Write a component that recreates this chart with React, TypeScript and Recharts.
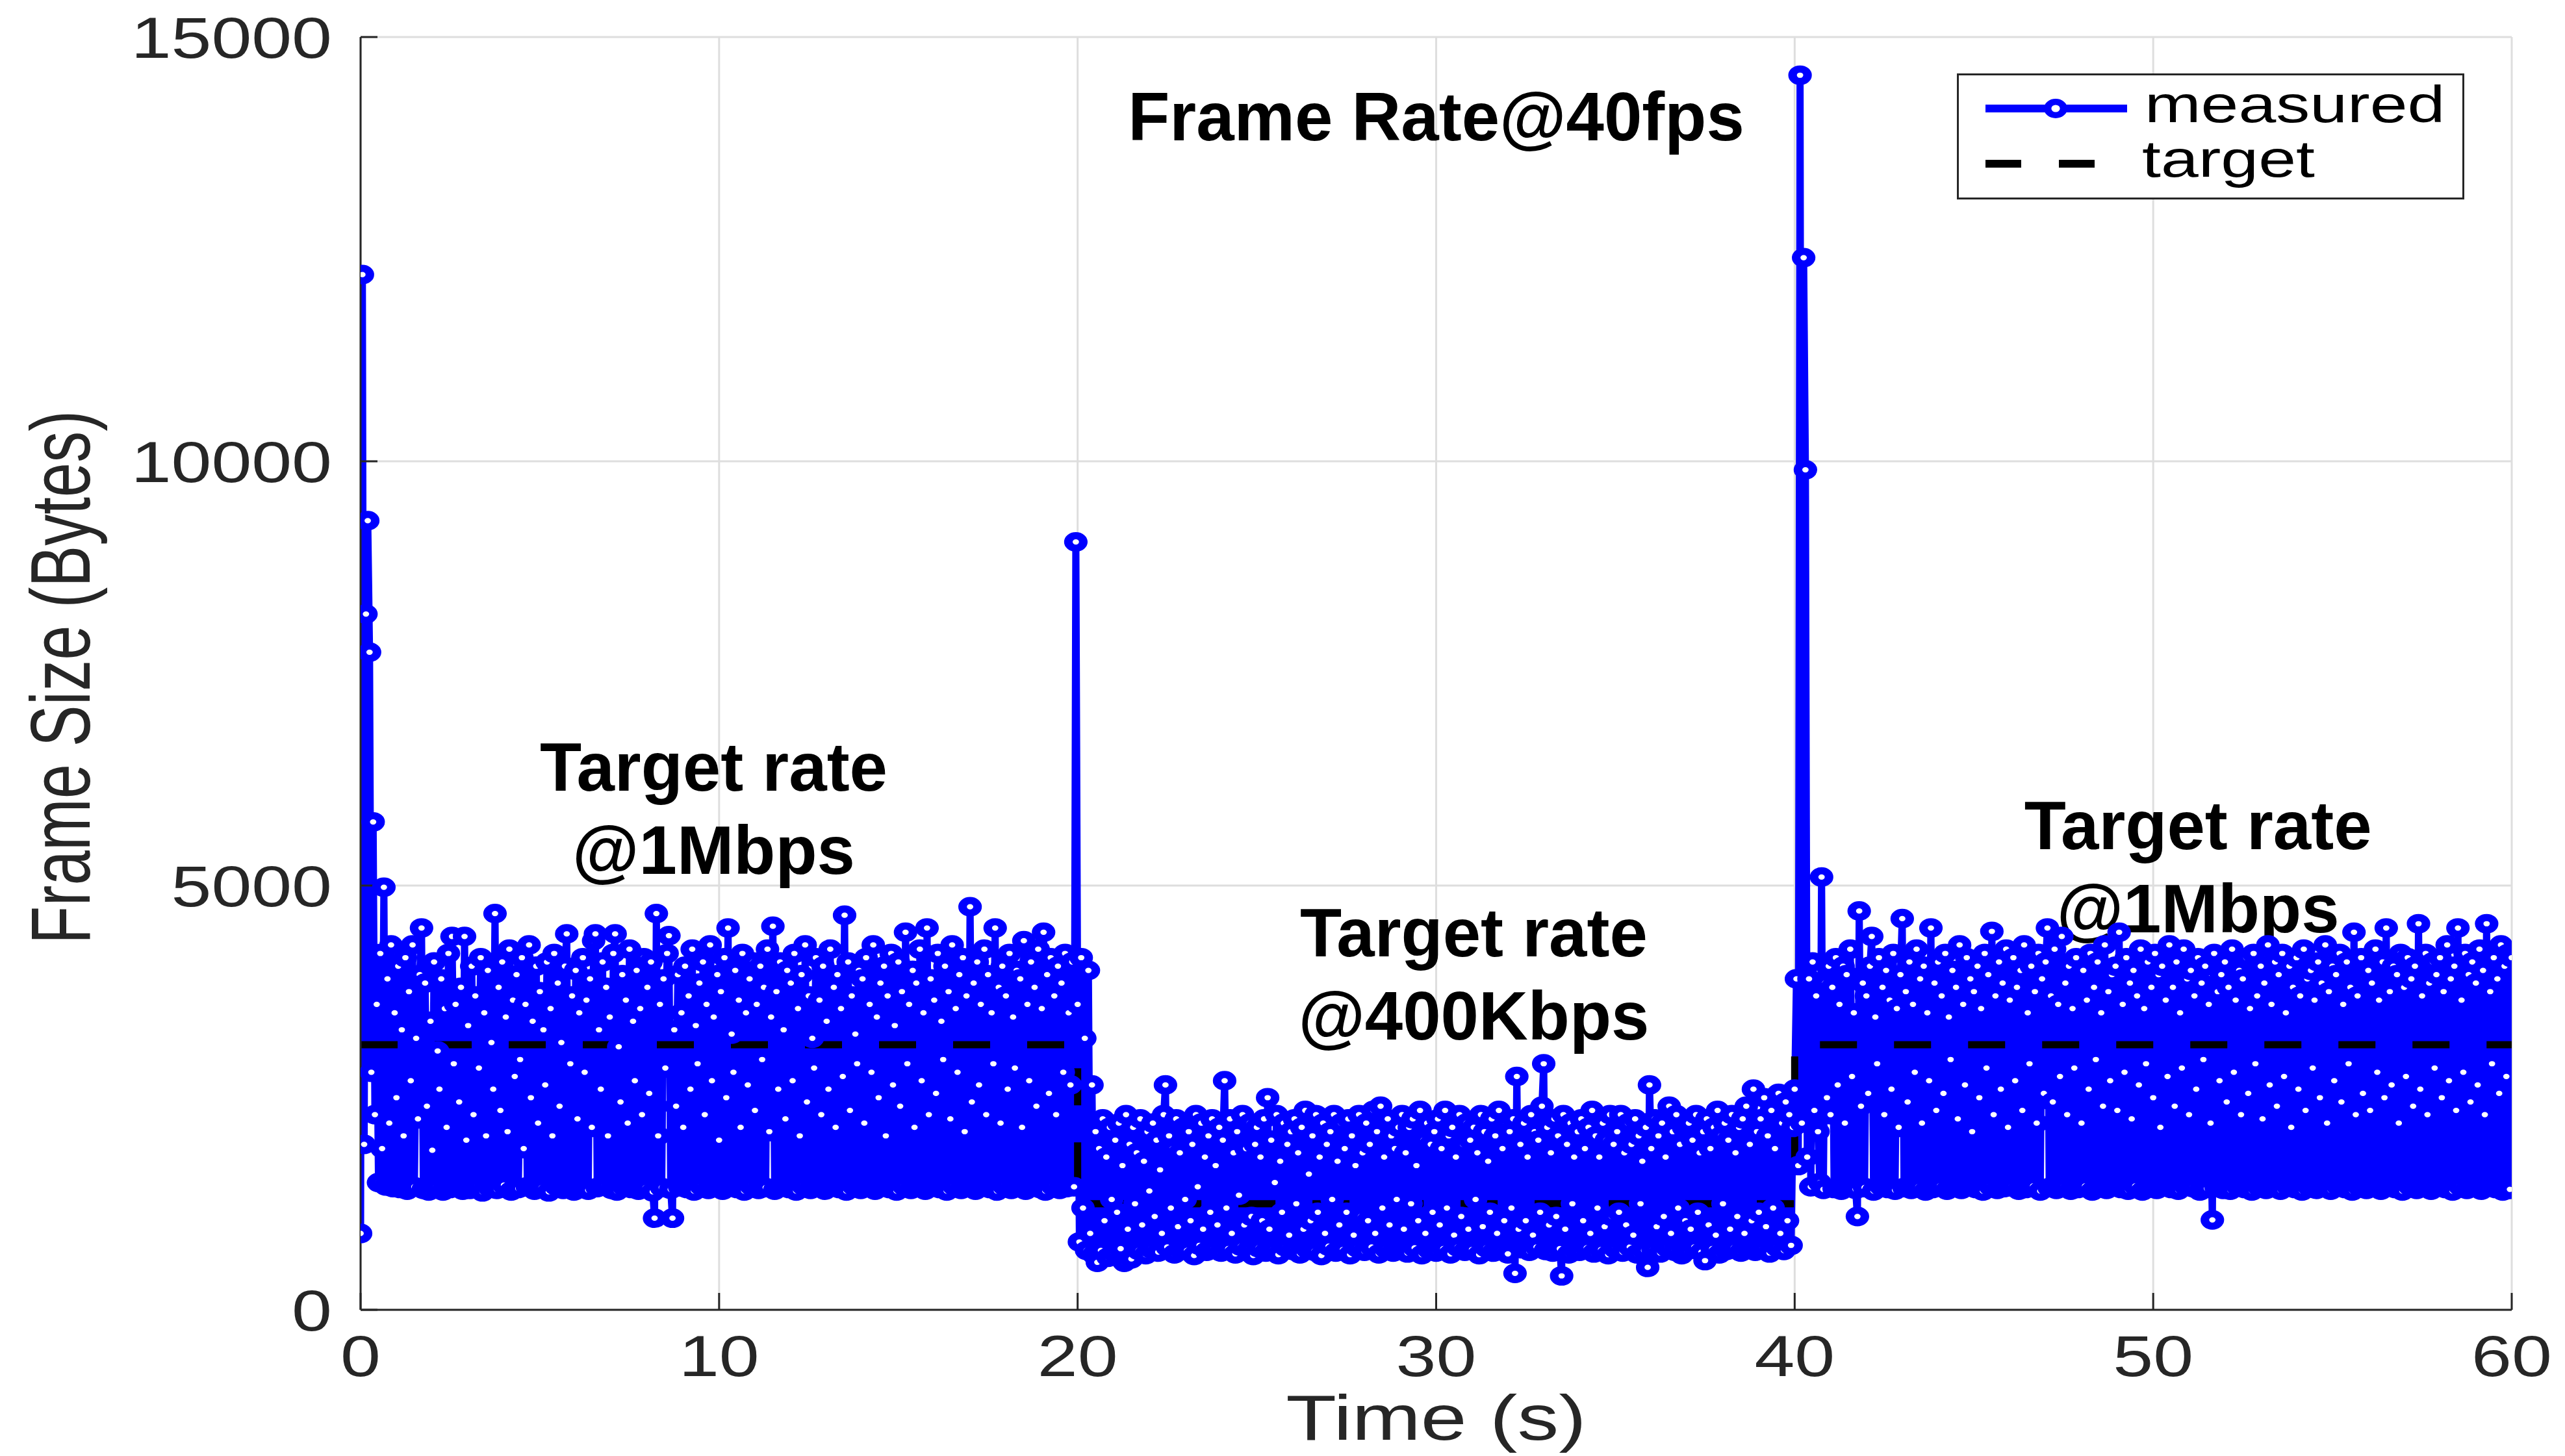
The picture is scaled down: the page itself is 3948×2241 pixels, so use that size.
import React from 'react';
import { LineChart, Line, XAxis, YAxis, CartesianGrid, Legend, ReferenceDot, Label } from 'recharts';

// Frame sizes (bytes) at 20 samples per second.
const SAMPLES_PER_SECOND = 20;

// 0 s – 20 s (target 1 Mbps)
const segmentA: number[] = [
  900, 12200, 1950, 8200, 9300, 7750, 2800, 5750, 2300, 3600, 1500, 4200, 1900, 4980, 1460, 3900, 2200, 4300, 1440, 3500,
  2500, 4050, 1430, 3300, 2050, 4150, 1410, 3750, 2700, 4300, 1450, 3200, 2250, 3950, 4500, 1420, 3850, 2400, 1400, 3400,
  1880, 4100, 1440, 3050, 2600, 3900, 1400, 3550, 2150, 4200, 1430, 4400, 2900, 3600, 1460, 2450, 3800, 1410, 4400, 2000,
  3350, 1420, 4050, 2300, 3700, 1450, 2850, 4150, 1390, 3500, 2050, 4000, 1440, 3150, 2600, 4670, 1420, 3800, 2350, 4100,
  1470, 3450, 2100, 4250, 1400, 3650, 2750, 3950, 1430, 2950, 4150, 1900, 3600, 1450, 4300, 2500, 3400, 1410, 4050, 2200,
  3750, 1440, 3300, 2650, 4100, 1390, 3550, 2050, 4200, 1460, 3850, 2400, 3150, 1420, 4050, 4430, 1450, 2900, 3700, 1400,
  4000, 2250, 3500, 1430, 4150, 2800, 3650, 1410, 3900, 2150, 4350, 4430, 1440, 3300, 2600, 4100, 1460, 3800, 2050, 3450,
  1420, 4200, 4430, 1400, 3100, 2450, 3950, 1450, 3650, 2200, 4250, 1430, 3400, 2700, 4000, 1410, 3550, 2300, 4150, 1440,
  3800, 2550, 4100, 1390, 1080, 4670, 2050, 3600, 1440, 3900, 2850, 4200, 4410, 1420, 1080, 3300, 2400, 3950, 1450, 3500,
  2150, 4050, 1430, 3700, 2600, 4250, 1400, 3350, 2900, 3850, 1460, 4100, 2300, 3600, 1420, 4300, 2700, 3450, 1440, 3950,
  2000, 3750, 1410, 4150, 2500, 4500, 1450, 3250, 2800, 4000, 1430, 3650, 2150, 4200, 1400, 3500, 2650, 3900, 1460, 4100,
  2350, 3600, 1420, 4050, 2950, 3800, 1440, 4250, 2100, 3450, 4520, 1410, 3750, 2600, 4100, 1450, 3300, 2250, 4000, 1430,
  3850, 2700, 4200, 1400, 3550, 2050, 3950, 1460, 4300, 2450, 3700, 1420, 3200, 2850, 4150, 1440, 3650, 2300, 4050, 1410,
  3400, 2600, 4250, 1450, 3800, 2150, 3950, 1430, 3550, 2750, 4650, 1400, 4100, 2350, 3700, 1460, 3250, 2900, 4000, 1420,
  3900, 2200, 4150, 1440, 3600, 2800, 4300, 1410, 3450, 2500, 3850, 1450, 4050, 2050, 3700, 1430, 4200, 2650, 3350, 1400,
  4100, 2400, 3750, 1460, 4450, 2900, 3600, 1420, 4000, 2150, 3850, 1440, 4250, 2700, 3500, 1410, 4500, 2300, 3900, 1450,
  3650, 2550, 4200, 1430, 3400, 2950, 4050, 1400, 3750, 2250, 4300, 1460, 3550, 2800, 3950, 1420, 4150, 2100, 3700, 1440,
  4750, 2450, 3850, 1410, 4100, 2650, 3600, 1450, 4250, 2300, 3950, 1430, 3500, 2900, 4500, 1400, 3800, 2200, 4050, 1460,
  3700, 2600, 4200, 1420, 3450, 2850, 4000, 1440, 3900, 2150, 4350, 1410, 3600, 2700, 4100, 1450, 3800, 2400, 4250, 1430,
  3550, 4450, 1400, 3950, 2550, 4150, 1460, 3700, 2300, 4050, 1420, 3850, 2800, 4200, 1440, 3500, 2650, 4100, 1450, 9050,
];

// 20 s – 40 s (target 400 Kbps)
const segmentB: number[] = [
  3600, 800, 4150, 1200, 3200, 700, 4000, 900, 2650, 650, 2100, 560, 1900, 700, 2250, 1050, 1800, 620, 2150, 1300,
  680, 2000, 1150, 2200, 720, 1700, 560, 2300, 950, 1950, 600, 2150, 1250, 1850, 700, 2250, 1000, 1750, 650, 2100,
  1400, 720, 2200, 1100, 2000, 680, 1650, 900, 2300, 2650, 740, 2050, 1200, 1900, 660, 2250, 980, 1850, 700, 2150,
  1300, 700, 2100, 1050, 1950, 640, 2300, 1450, 760, 2200, 950, 1800, 690, 2050, 1150, 2250, 720, 1700, 1000, 2150,
  680, 2000, 2700, 1200, 720, 2250, 900, 1850, 660, 2100, 1350, 750, 2300, 1000, 1900, 700, 2200, 1100, 640, 1950,
  2150, 730, 1800, 1050, 2250, 680, 2500, 950, 2000, 710, 1500, 2300, 650, 1750, 1150, 2200, 740, 1950, 880, 2100,
  700, 2250, 1250, 1850, 660, 2150, 950, 2350, 720, 1600, 1050, 2050, 690, 2300, 1150, 1800, 640, 2200, 900, 1950,
  750, 2100, 1300, 2300, 680, 1750, 1000, 2200, 710, 1900, 1150, 2250, 650, 2050, 880, 1700, 730, 2300, 1100, 1850,
  690, 2200, 1050, 1950, 740, 2350, 900, 2100, 660, 2400, 1200, 1800, 720, 2250, 1000, 2050, 680, 1900, 1300, 2150,
  700, 2300, 950, 1850, 670, 2150, 1250, 2250, 730, 1700, 1050, 2350, 650, 2000, 900, 2200, 710, 1950, 1150, 2100,
  680, 2250, 1000, 1900, 720, 2350, 1200, 2050, 660, 2150, 880, 1800, 740, 2300, 1100, 1950, 690, 2200, 950, 2000,
  710, 2150, 1300, 1850, 650, 2300, 980, 2100, 730, 1750, 1150, 2250, 680, 2050, 900, 2350, 700, 1900, 1050, 2200,
  660, 2100, 1200, 2250, 430, 2750, 950, 1950, 720, 2200, 1050, 1800, 690, 2300, 880, 2100, 740, 2000, 1150, 2400,
  2900, 700, 2150, 1000, 1850, 680, 2250, 1100, 2050, 720, 400, 2300, 950, 1950, 660, 2200, 1250, 1800, 700, 2100,
  690, 2250, 1050, 1900, 730, 2150, 900, 2350, 670, 2050, 1200, 1800, 710, 2200, 980, 2000, 650, 2300, 1100, 1950,
  720, 2100, 1150, 2300, 680, 1850, 1000, 2200, 740, 1950, 880, 2250, 660, 2050, 1250, 1750, 700, 2150, 500, 2650,
  1900, 710, 2250, 980, 2050, 670, 2200, 1100, 1800, 730, 2400, 900, 2100, 690, 2300, 1200, 1950, 650, 2150, 1050,
  700, 2200, 950, 2000, 740, 2300, 1150, 1850, 680, 2100, 580, 2250, 1000, 1900, 720, 2150, 880, 2350, 660, 2050,
  1250, 2200, 700, 2000, 950, 2300, 730, 1850, 1100, 2150, 680, 2250, 900, 2400, 720, 1950, 1050, 2600, 690, 2100,
  1150, 2250, 710, 2500, 980, 2050, 670, 2350, 1200, 1900, 740, 2550, 900, 2200, 700, 2450, 1050, 2300, 760, 2150,
];

// 40 s – 60 s (target 1 Mbps)
const segmentC: number[] = [
  2600, 3900, 1700, 14550, 2200, 12400, 9900, 1800, 3900, 1450, 4100, 2350, 3700, 2100, 1500, 5100, 1420, 3850, 2500, 4050,
  2300, 3800, 1430, 4150, 2650, 3600, 1410, 4050, 2200, 3950, 1450, 4250, 2750, 3500, 1420, 1100, 4700, 2400, 3850, 1440,
  3700, 2550, 4050, 4400, 1400, 3450, 2900, 4150, 1460, 3800, 2300, 4000, 1430, 3650, 2600, 4200, 1410, 3550, 2150, 3950,
  4610, 1440, 3750, 2450, 4100, 1420, 3600, 2800, 4250, 1450, 3900, 2200, 4050, 1400, 3500, 2700, 4500, 1430, 3850, 2350,
  4100, 1460, 3700, 2550, 4200, 1410, 3450, 2950, 4000, 1440, 3800, 2250, 4300, 1420, 3600, 2650, 4150, 1450, 3900, 2100,
  3750, 1430, 4050, 2500, 3550, 1400, 4200, 2850, 3950, 1460, 4460, 2300, 3700, 1420, 4100, 2600, 3850, 1440, 4250, 2150,
  3650, 1450, 4150, 2700, 3800, 1410, 4000, 2350, 4300, 1430, 3500, 2900, 4050, 1460, 3750, 2200, 4200, 1400, 3900, 2550,
  4100, 4500, 1440, 3700, 2450, 4250, 1420, 3600, 2750, 4400, 1450, 3850, 2300, 4050, 1410, 3550, 2850, 4150, 1430, 3950,
  2200, 4000, 1460, 3650, 2600, 4200, 1400, 3800, 2950, 4100, 1440, 3500, 2400, 4300, 1420, 3750, 2700, 3950, 1450, 4050,
  2350, 4450, 1430, 3600, 2800, 4150, 1410, 3850, 2250, 4000, 1460, 3700, 2650, 4250, 1400, 3550, 2900, 4100, 1440, 3800,
  2500, 4200, 1420, 3950, 2150, 4050, 1450, 3650, 2750, 4300, 1430, 3800, 2400, 4100, 1410, 3500, 2850, 4250, 1460, 3900,
  2300, 4000, 1440, 3700, 2600, 4150, 1400, 3850, 2950, 4050, 1430, 3600, 2200, 1060, 4200, 1450, 3750, 2700, 3950, 1420,
  4100, 2450, 3800, 1410, 4250, 2800, 3650, 1460, 4000, 2300, 3900, 1430, 4150, 2550, 3550, 1400, 4200, 2900, 3700, 1450,
  4050, 2250, 3850, 1420, 4300, 2650, 3600, 1440, 4100, 2400, 3950, 1410, 4200, 2750, 3500, 1460, 4050, 2150, 3800, 1430,
  4150, 2600, 3700, 1400, 4250, 2350, 3900, 1450, 4000, 2850, 3650, 1420, 4100, 2500, 3850, 1440, 4300, 2200, 3750, 1410,
  4050, 2700, 3950, 1460, 4200, 2450, 3600, 1430, 4100, 2900, 3800, 1400, 4450, 2300, 3700, 1450, 4150, 2550, 3900, 1420,
  4000, 2350, 3850, 1440, 4250, 2800, 3650, 1410, 4100, 2500, 4500, 1450, 3750, 2650, 4050, 1430, 3950, 2200, 4200, 1400,
  3800, 2750, 4150, 1460, 3900, 2400, 4050, 1420, 4550, 2600, 3700, 1440, 4200, 2300, 3850, 1410, 4100, 2850, 3950, 1450,
  4150, 2500, 3750, 1430, 4300, 2700, 3900, 1400, 4050, 2350, 4500, 1460, 3650, 2800, 4200, 1420, 3950, 2450, 4100, 1440,
  3850, 2650, 4250, 1410, 4000, 2300, 4550, 1450, 3750, 2900, 4150, 1430, 3900, 2550, 4300, 1400, 4050, 2750, 4200, 1420,
  4150,
];

// Target frame size (bytes)
const targetTimes: number[] = [0, 20, 20, 40, 40, 60];
const targetLevels: number[] = [3125, 3125, 1250, 1250, 3125, 3125];

// Axis ticks
const xTicks: number[] = [0, 10, 20, 30, 40, 50, 60];
const yTicks: number[] = [0, 5000, 10000, 15000];

// Annotations (data coordinates of the first baseline)
const annotationTimes: number[] = [30, 9.85, 31.05, 51.25];
const annotationLevels: number[] = [13782, 6118, 4165, 5429];
const annotationTexts: string[][] = [
  ['Frame Rate@40fps'],
  ['Target rate', '@1Mbps'],
  ['Target rate', '@400Kbps'],
  ['Target rate', '@1Mbps'],
];

const measuredValues = [...segmentA, ...segmentB, ...segmentC];
const measuredData = measuredValues.map((v, i) => ({ t: i / SAMPLES_PER_SECOND, measured: v }));
const targetData = targetTimes.map((t, i) => ({ t, target: targetLevels[i] }));

const FONT = '"Liberation Sans", Arial, Helvetica, sans-serif';
const AXIS_COLOR = '#262626';
const BLUE = '#0000ff';

const renderDot = (props: any) => {
  const { cx, cy, index } = props;
  if (cx == null || cy == null || isNaN(cx) || isNaN(cy)) return <g key={`d-${index}`} />;
  return (
    <g key={`d-${index}`} transform={`translate(${cx},${cy}) scale(1.2,1)`}>
      <circle r={9.6} fill="#ffffff" stroke={BLUE} strokeWidth={11} />
    </g>
  );
};

const XTick = (props: any) => {
  const { x, y, payload } = props;
  return (
    <g transform={`translate(${x},${y}) scale(1.25,1)`}>
      <text x={0} y={0} textAnchor="middle" fontFamily={FONT} fontSize={89} fill={AXIS_COLOR}>
        {payload.value}
      </text>
    </g>
  );
};

const YTick = (props: any) => {
  const { x, y, payload } = props;
  return (
    <g transform={`translate(${x},${y}) scale(1.25,1)`}>
      <text x={0} y={32} textAnchor="end" fontFamily={FONT} fontSize={89} fill={AXIS_COLOR}>
        {payload.value}
      </text>
    </g>
  );
};

const XTitle = (props: any) => {
  const vb = props.viewBox || { x: 555, y: 2016, width: 3311, height: 150 };
  const cx = vb.x + vb.width / 2;
  const by = vb.y + 200;
  return (
    <g transform={`translate(${cx},${by}) scale(1.3,1)`}>
      <text x={0} y={0} textAnchor="middle" fontFamily={FONT} fontSize={98} fill={AXIS_COLOR}>
        Time (s)
      </text>
    </g>
  );
};

const YTitle = (props: any) => {
  const vb = props.viewBox || { x: 355, y: 57, width: 200, height: 1959 };
  const bx = vb.x - 217;
  const cy = vb.y + vb.height / 2 + 6;
  return (
    <g transform={`translate(${bx},${cy}) rotate(-90) scale(1,1.36)`}>
      <text x={0} y={0} textAnchor="middle" fontFamily={FONT} fontSize={96} fill={AXIS_COLOR}>
        Frame Size (Bytes)
      </text>
    </g>
  );
};

const AnnotationText = ({ cx, cy, lines }: { cx: number; cy: number; lines: string[] }) => (
  <text x={cx} y={cy} textAnchor="middle" fontFamily={FONT} fontWeight="bold" fontSize={105} fill="#000000">
    {lines.map((l, i) => (
      <tspan key={i} x={cx} dy={i === 0 ? 0 : 128}>
        {l}
      </tspan>
    ))}
  </text>
);

const LegendBox = () => (
  <svg width={781} height={194} style={{ display: 'block' }}>
    <rect x={1.5} y={1.5} width={778} height={191} fill="#ffffff" stroke={AXIS_COLOR} strokeWidth={3} />
    <line x1={44} x2={262} y1={54} y2={54} stroke={BLUE} strokeWidth={12} />
    <g transform="translate(152,54) scale(1.2,1)">
      <circle r={10.25} fill="#ffffff" stroke={BLUE} strokeWidth={9.5} />
    </g>
    <g transform="translate(289,75) scale(1.3,1)">
      <text x={0} y={0} fontFamily={FONT} fontSize={80} fill="#000000">measured</text>
    </g>
    <line x1={44} x2={214} y1={139} y2={139} stroke="#000000" strokeWidth={12} strokeDasharray="55 58" />
    <g transform="translate(285,159) scale(1.3,1)">
      <text x={0} y={0} fontFamily={FONT} fontSize={80} fill="#000000">target</text>
    </g>
  </svg>
);

export default function App() {
  return (
    <div style={{ position: 'absolute', left: 0, top: 0, width: 3948, height: 2241, background: '#ffffff' }}>
      <LineChart width={3948} height={2241} margin={{ top: 57, right: 82, bottom: 75, left: 355 }}>
        <CartesianGrid stroke="#dedede" strokeWidth={3} />
        <Line
          data={measuredData}
          dataKey="measured"
          name="measured"
          stroke={BLUE}
          strokeWidth={11}
          dot={renderDot}
          activeDot={false}
          isAnimationActive={false}
        />
        <Line
          data={targetData}
          dataKey="target"
          name="target"
          stroke="#000000"
          strokeWidth={11}
          strokeDasharray="57 57"
          dot={false}
          activeDot={false}
          isAnimationActive={false}
        />
        {annotationTexts.map((lines, k) => (
          <ReferenceDot
            key={`ann-${k}`}
            x={annotationTimes[k]}
            y={annotationLevels[k]}
            r={0}
            ifOverflow="visible"
            shape={(p: any) => <AnnotationText cx={p.cx} cy={p.cy} lines={lines} />}
          />
        ))}
        <XAxis
          dataKey="t"
          type="number"
          domain={[0, 60]}
          ticks={xTicks}
          interval={0}
          allowDataOverflow
          height={150}
          tickSize={-26}
          tickMargin={128}
          tick={(p: any) => <XTick {...p} />}
          axisLine={{ stroke: AXIS_COLOR, strokeWidth: 3 }}
          tickLine={{ stroke: AXIS_COLOR, strokeWidth: 3 }}
        >
          <Label content={XTitle} />
        </XAxis>
        <YAxis
          type="number"
          domain={[0, 15000]}
          ticks={yTicks}
          interval={0}
          allowDataOverflow
          width={200}
          tickSize={-26}
          tickMargin={70}
          tick={(p: any) => <YTick {...p} />}
          axisLine={{ stroke: AXIS_COLOR, strokeWidth: 3 }}
          tickLine={{ stroke: AXIS_COLOR, strokeWidth: 3 }}
        >
          <Label content={YTitle} />
        </YAxis>
        <XAxis
          xAxisId="top"
          orientation="top"
          type="number"
          domain={[0, 60]}
          ticks={xTicks}
          interval={0}
          allowDataOverflow
          height={0}
          tick={false}
          tickSize={-26}
          axisLine={{ stroke: AXIS_COLOR, strokeWidth: 3 }}
          tickLine={{ stroke: AXIS_COLOR, strokeWidth: 3 }}
        />
        <YAxis
          yAxisId="right"
          orientation="right"
          type="number"
          domain={[0, 15000]}
          ticks={yTicks}
          interval={0}
          allowDataOverflow
          width={0}
          tick={false}
          tickSize={-26}
          axisLine={{ stroke: AXIS_COLOR, strokeWidth: 3 }}
          tickLine={{ stroke: AXIS_COLOR, strokeWidth: 3 }}
        />
        <Legend
          layout="horizontal"
          verticalAlign="middle"
          align="center"
          wrapperStyle={{ left: 3012, top: 113, width: 781, height: 194 }}
          content={() => <LegendBox />}
        />
      </LineChart>
    </div>
  );
}
